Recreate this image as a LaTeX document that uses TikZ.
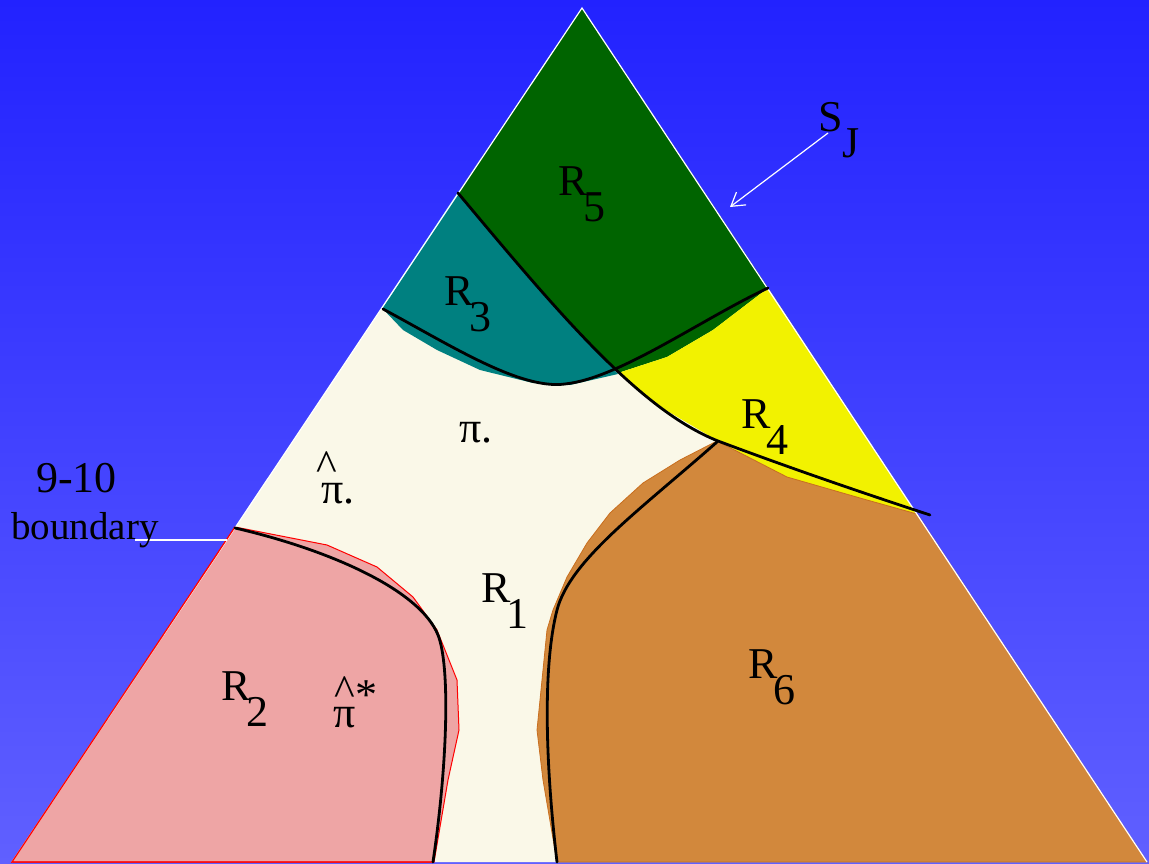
\documentclass[tikz,border=0pt]{standalone}
\usepackage{fontspec}
\setmainfont{Liberation Serif}
\usetikzlibrary{arrows.meta}
\definecolor{bgtop}{RGB}{34,34,255}
\definecolor{bgbot}{RGB}{96,96,255}
\definecolor{cream}{RGB}{250,248,232}
\definecolor{pinkR}{RGB}{238,165,165}
\definecolor{brownR}{RGB}{210,136,60}
\definecolor{yellowR}{RGB}{242,242,0}
\definecolor{tealR}{RGB}{0,128,128}
\definecolor{greenR}{RGB}{0,100,0}
\definecolor{brownEdge}{RGB}{200,110,30}
\begin{document}
\begin{tikzpicture}[x=1pt,y=-1pt,
  lab/.style={font=\fontsize{44}{44}\selectfont, inner sep=0pt, anchor=base west, text=black},
  bnd/.style={black, line width=2.8pt, line cap=round, line join=round},
  pointer/.style={white, line width=1.2pt}]
\useasboundingbox (0,0) rectangle (1149,864);
\shade[top color=bgtop, bottom color=bgbot] (0,0) rectangle (1149,864);

% triangle (region R1 background)
\fill[cream] (582,8) -- (12,862) -- (1147,862) -- cycle;

% R5
\fill[greenR] (582,8) -- (458,193) -- (488,229) -- (531,279) -- (584,338) -- (618,373)
  -- (667,357) -- (713,330) -- (768,288) -- cycle;
% R3
\fill[tealR] (458,193) -- (382,308) -- (403,330) -- (437,350) -- (480,370) -- (533,383)
  -- (570,385) -- (618,374) -- (584,338) -- (531,279) -- (488,229) -- cycle;
\draw[cyan!60, line width=1pt] (458,193) -- (382,308);
% R4
\fill[yellowR] (768,288) -- (713,330) -- (667,357) -- (618,373) -- (659,406) -- (718,441)
  -- (787,477) -- (867,500) -- (917,514) -- cycle;
% R6
\filldraw[fill=brownR, draw=brownEdge, line width=0.8pt] (717,441) -- (787,477) -- (867,500) -- (917,514)
  -- (1147,862) -- (557,862) -- (543,780) -- (537,730) -- (542,680) -- (547,630)
  -- (553,610) -- (567,577) -- (587,543) -- (610,513) -- (643,483) -- (680,460) -- cycle;
% R2
\filldraw[fill=pinkR, draw=red, line width=1pt] (235,527) -- (327,545) -- (377,567) -- (413,597)
  -- (437,630) -- (457,680) -- (459,730) -- (448,780) -- (434,862) -- (12,862) -- cycle;

% triangle outline
\draw[white, line width=1.2pt] (12,862) -- (582,8) -- (1147,862);
\draw[red, line width=1.2pt] (235,527) -- (12,862) -- (434,862);

% boundaries
\draw[bnd] (458,193) .. controls (560,315) and (640,410) .. (718,441)
  .. controls (790,468) and (860,492) .. (930,515);
\draw[bnd] (383,309) .. controls (450,345) and (520,390) .. (565,384)
  .. controls (620,378) and (700,320) .. (768,288);
\draw[bnd] (235,528) .. controls (330,550) and (420,590) .. (438,635)
  .. controls (450,665) and (448,760) .. (433,862);
\draw[bnd] (717,442) .. controls (640,510) and (570,560) .. (557,610)
  .. controls (543,665) and (545,760) .. (557,862);

% pointers
\coordinate (bl1) at (135,540);
\coordinate (bl2) at (227,540);
\draw[pointer] (bl1) -- (bl2);
\coordinate (sjtail) at (828,133);
\coordinate (sjhead) at (730,207);
\draw[pointer, -{Straight Barb[length=13pt, width=16pt]}] (sjtail) -- (sjhead);

% labels
\node[lab] (r5) at (558,195) {R\kern-4pt\raisebox{-26pt}{5}};
\node[lab] (r3) at (444,305) {R\kern-4pt\raisebox{-26pt}{3}};
\node[lab] (r4) at (741,428) {R\kern-4pt\raisebox{-26pt}{4}};
\node[lab] (r1) at (481,602) {R\kern-4pt\raisebox{-26pt}{1}};
\node[lab] (r2) at (221,700) {R\kern-4pt\raisebox{-26pt}{2}};
\node[lab] (r6) at (748,678) {R\kern-4pt\raisebox{-26pt}{6}};
\node[lab] (pi1) at (459,442) {π.};
\node[lab] (pi2) at (316,503) {\rlap{\raisebox{23pt}{\^{}}}\hspace{5pt}π.};
\node[lab] (pi3) at (333,727) {\rlap{\hspace{1pt}\raisebox{22pt}{\^{}}}π\raisebox{18pt}{*}};
\node[lab] (nt) at (36,492) {9-10};
\node[lab, font=\fontsize{39}{39}\selectfont] (bd) at (11,539) {boundary};
\node[lab] (sj) at (818,132) {S\raisebox{-25pt}{J}};
\end{tikzpicture}
\end{document}
